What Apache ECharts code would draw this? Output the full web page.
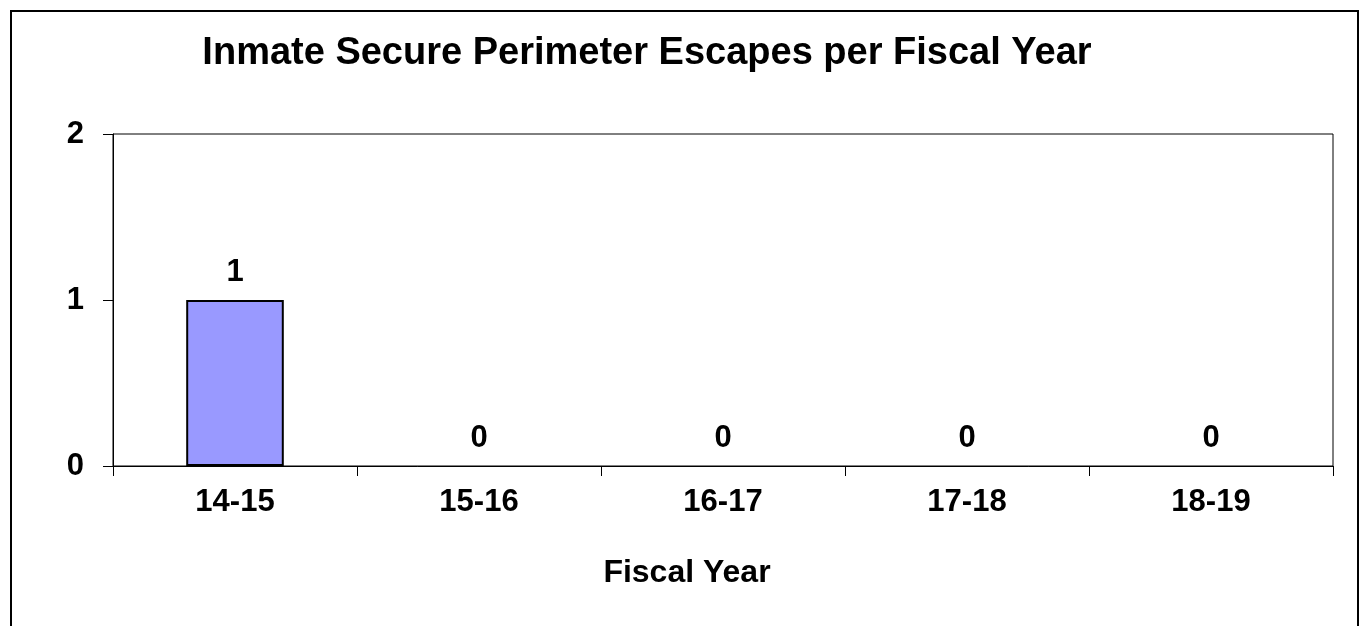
<!DOCTYPE html>
<html>
<head>
<meta charset="utf-8">
<script src="https://cdn.jsdelivr.net/npm/echarts@6/dist/echarts.min.js"></script>
<style>
  html, body { margin: 0; padding: 0; background: #fff; }
  #chart { width: 1364px; height: 626px; }
</style>
</head>
<body>
<div id="chart"></div>
<script>
const years = ["14-15", "15-16", "16-17", "17-18", "18-19"];
const escapes = [1, 0, 0, 0, 0];
const yTicks = [0, 1, 2];

const font = "Liberation Sans, Arial, sans-serif";
const chart = echarts.init(document.getElementById("chart"));

// zero-height bars show no outline in the original
const barData = escapes.map((v) => (v === 0 ? { value: v, itemStyle: { borderWidth: 0 } } : v));

chart.setOption({
  backgroundColor: "#fff",
  animation: false,
  title: {
    text: "Inmate Secure Perimeter Escapes per Fiscal Year",
    left: 642,
    top: 30,
    textAlign: "center",
    textStyle: { fontFamily: font, fontSize: 38, fontWeight: "bold", color: "#000" },
  },
  graphic: [
    {
      type: "polyline",
      shape: { points: [[11, 630], [11, 11], [1358, 11], [1358, 630]] },
      style: { stroke: "#000", lineWidth: 2, fill: null },
    },
  ],
  grid: {
    left: 113,
    top: 134,
    width: 1220,
    height: 332,
    show: true,
    borderColor: "#000",
    borderWidth: 1,
    backgroundColor: "transparent",
  },
  xAxis: {
    type: "category",
    data: years,
    name: "Fiscal Year",
    nameLocation: "middle",
    nameGap: 91,
    nameTextStyle: {
      fontFamily: font,
      fontSize: 32,
      fontWeight: "bold",
      color: "#000",
      padding: [0, 72, 0, 0],
    },
    axisLine: { lineStyle: { color: "#000", width: 1 } },
    axisTick: { show: true, length: 10, lineStyle: { color: "#000" } },
    axisLabel: { fontFamily: font, fontSize: 31, fontWeight: "bold", color: "#000", margin: 21 },
  },
  yAxis: {
    type: "value",
    min: yTicks[0],
    max: yTicks[yTicks.length - 1],
    interval: 1,
    splitLine: { show: false },
    axisLine: { show: true, lineStyle: { color: "#000", width: 1 } },
    axisTick: { show: true, length: 10, lineStyle: { color: "#000" } },
    axisLabel: { fontFamily: font, fontSize: 31, fontWeight: "bold", color: "#000", margin: 29 },
  },
  series: [
    {
      type: "bar",
      data: barData,
      barWidth: "40%",
      itemStyle: { color: "#9999ff", borderColor: "#000", borderWidth: 2 },
      label: {
        show: true,
        position: "top",
        distance: 12,
        fontFamily: font,
        fontSize: 31,
        fontWeight: "bold",
        color: "#000",
      },
    },
  ],
});
</script>
</body>
</html>
